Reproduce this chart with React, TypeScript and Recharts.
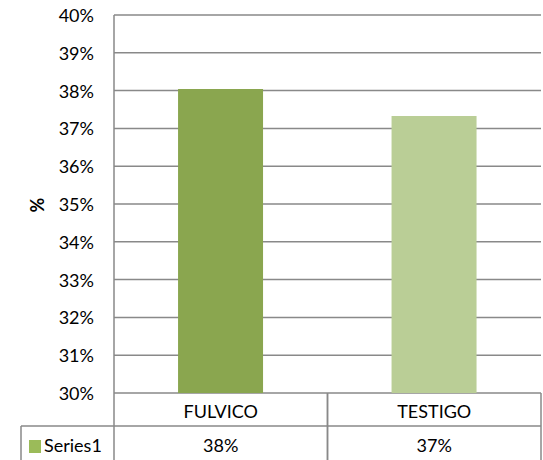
import { BarChart, Bar, Cell, XAxis, YAxis, CartesianGrid } from "recharts";

const categories = ["FULVICO", "TESTIGO"];
const values = [38.04, 37.33];
const barColors = ["#8AA64F", "#BACE96"];
const yTicks = [30, 31, 32, 33, 34, 35, 36, 37, 38, 39, 40];
const seriesName = "Series1";

const data = categories.map((name, i) => ({ name, value: values[i] }));

const W = 543;
const H = 460;
const PLOT_LEFT = 114;
const PLOT_RIGHT = 541;
const PLOT_TOP = 15;
const PLOT_BOTTOM = 393;
const ROW_SPLIT = 426;
const LINE = "#898989";
const FONT = "Lato, 'Open Sans', sans-serif";
const FS = 18;

const cellW = (PLOT_RIGHT - PLOT_LEFT) / categories.length;

const TableTick = (props: any) => {
  const { x, payload, index } = props;
  const left = x - cellW / 2;
  const right = x + cellW / 2;
  return (
    <g>
      <line x1={left} y1={PLOT_BOTTOM} x2={left} y2={H} stroke={LINE} strokeWidth={1.5} />
      <line x1={right} y1={PLOT_BOTTOM} x2={right} y2={H} stroke={LINE} strokeWidth={1.5} />
      <line x1={left} y1={ROW_SPLIT} x2={right} y2={ROW_SPLIT} stroke={LINE} strokeWidth={1.5} />
      <text x={x} y={411} textAnchor="middle" dominantBaseline="central" fontSize={FS} fill="#000" fontFamily={FONT}>
        {payload.value}
      </text>
      <text x={x} y={445} textAnchor="middle" dominantBaseline="central" fontSize={FS} fill="#000" fontFamily={FONT}>
        {Math.round(values[index])}%
      </text>
      {index === 0 && (
        <g>
          <line x1={21} y1={ROW_SPLIT} x2={left} y2={ROW_SPLIT} stroke={LINE} strokeWidth={1.5} />
          <line x1={21} y1={ROW_SPLIT} x2={21} y2={H} stroke={LINE} strokeWidth={1.5} />
          <rect x={29} y={440} width={12} height={13} fill="#9BBB59" />
          <text x={44} y={445} dominantBaseline="central" fontSize={FS} fill="#000" fontFamily={FONT}>
            {seriesName}
          </text>
        </g>
      )}
    </g>
  );
};

const YTick = (props: any) => {
  const { x, y, payload } = props;
  return (
    <text x={x} y={y} textAnchor="end" dominantBaseline="central" fontSize={FS} fill="#000" fontFamily={FONT}>
      {payload.value}%
    </text>
  );
};

export default function App() {
  return (
    <div style={{ position: "absolute", left: 0, top: 0, width: W, height: H, background: "#fff" }}>
      <BarChart
        width={W}
        height={H}
        data={data}
        margin={{ top: PLOT_TOP, right: W - PLOT_RIGHT, bottom: 0, left: 0 }}
        barCategoryGap="30%"
      >
        <CartesianGrid horizontal vertical={false} stroke={LINE} strokeWidth={1.5} />
        <XAxis
          dataKey="name"
          height={H - PLOT_BOTTOM}
          axisLine={false}
          tickLine={false}
          tick={<TableTick />}
          interval={0}
        />
        <YAxis
          width={PLOT_LEFT}
          domain={[30, 40]}
          ticks={yTicks}
          interval={0}
          tickSize={0}
          tickMargin={20}
          tickLine={false}
          axisLine={{ stroke: LINE, strokeWidth: 1.5 }}
          tick={<YTick />}
          label={{
            content: () => (
              <text
                x={37}
                y={205}
                transform="rotate(-90 37 205)"
                textAnchor="middle"
                dominantBaseline="central"
                fontSize={FS}
                fontWeight="bold"
                fontFamily={FONT}
                fill="#000"
              >
                %
              </text>
            ),
          }}
        />
        <Bar dataKey="value" isAnimationActive={false}>
          {data.map((d, i) => (
            <Cell key={d.name} fill={barColors[i]} />
          ))}
        </Bar>
      </BarChart>
    </div>
  );
}
